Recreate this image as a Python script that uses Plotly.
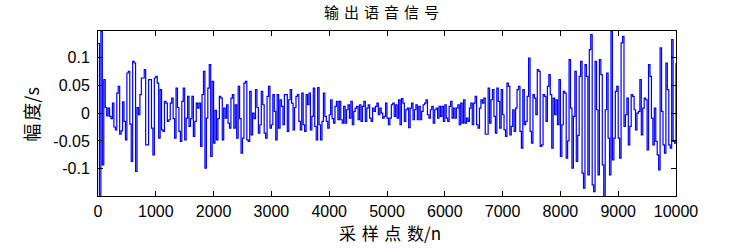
import numpy as np
import plotly.graph_objects as go

# sample step between listed values (samples)
step = 25

amp_0000 = [0.125, -0.15, 0.147, -0.093, 0.06, 0.01, -0.005, 0.009, -0.006, -0.01,
            0.018, -0.025, -0.03, 0.036, 0.048, -0.038, -0.032, 0.02, -0.015, -0.048,
            0.072, 0.075, -0.02, -0.087, 0.093, 0.09, -0.105, 0.01, -0.003, 0.033,
            0.063, 0.063, 0.078, -0.057, -0.057, 0.06, 0.06, -0.027, -0.075, 0.063,
            0.066, 0.054, -0.045, 0.042, -0.03]
amp_1125 = [-0.033, 0.021, 0.018, -0.015, -0.012,
            0.018, 0.027, -0.01, -0.045, 0.045, 0.01, -0.033, -0.051, 0.021, 0.045,
            -0.048, -0.009, 0.03, -0.024, -0.01, 0.03, -0.042, -0.015, 0.018, 0.009,
            0.018, -0.06, 0.033, 0.075, -0.099, -0.009, 0.045, 0.087, -0.078, 0.057,
            -0.054, 0.005, -0.048, -0.01, 0.03, 0.027, -0.048, 0.009, -0.009, 0.015]
amp_2250 = [-0.018, -0.027, 0.027, 0.033, -0.027, 0.015, -0.045, 0.048, -0.01, -0.072,
            -0.045, 0.054, 0.057, -0.048, -0.051, 0.039, -0.039, 0.0, -0.01, 0.042,
            0.01, -0.036, -0.021, 0.039, 0.015, -0.036, -0.045, 0.03, 0.048, -0.027,
            -0.021, 0.033, 0.003, -0.048, 0.033, -0.027, 0.024, 0.012, -0.021, 0.033,
            0.033, -0.033, 0.024, 0.042, 0.018]
amp_3375 = [-0.03, 0.01, 0.03, 0.033, -0.015,
            -0.03, 0.036, -0.021, -0.033, 0.033, 0.015, 0.036, -0.03, -0.006, 0.045,
            -0.024, -0.048, 0.046, -0.021, -0.048, -0.015, 0.036, -0.006, -0.015, -0.027,
            -0.003, 0.024, -0.01, -0.018, 0.012, 0.021, -0.012, 0.021, -0.012, -0.018,
            0.012, -0.018, 0.006, 0.015, -0.009, 0.021, -0.021, 0.003, 0.009, 0.012]
amp_4500 = [-0.012, 0.015, -0.015, 0.012, 0.021, -0.015, 0.009, 0.015, -0.009, -0.015,
            0.009, 0.003, 0.012, 0.018, -0.003, 0.009, 0.0, -0.009, -0.006, 0.018,
            -0.009, -0.021, -0.009, 0.015, 0.018, -0.006, 0.015, -0.009, 0.024, -0.021,
            0.026, 0.018, -0.015, 0.006, 0.009, -0.026, 0.009, 0.018, -0.012, 0.006,
            0.015, -0.012, 0.012, -0.012, 0.003]
amp_5625 = [0.015, 0.018, 0.024, -0.003, -0.009,
            0.006, 0.012, -0.018, 0.006, 0.009, -0.009, 0.012, -0.006, 0.012, -0.015,
            0.015, -0.009, -0.015, 0.012, 0.021, -0.009, 0.009, -0.009, 0.009, 0.015,
            -0.021, 0.018, -0.018, 0.024, -0.018, -0.009, -0.015, 0.009, 0.018, -0.021,
            0.018, 0.03, -0.021, -0.027, 0.009, 0.024, 0.018, 0.027, -0.038, -0.038]
amp_6750 = [0.045, -0.018, 0.024, 0.042, -0.006, -0.036, 0.045, 0.021, -0.027, 0.042,
            -0.003, -0.03, -0.042, 0.054, 0.048, -0.039, -0.024, 0.006, -0.033, 0.009,
            0.042, 0.048, -0.033, -0.063, 0.042, -0.021, -0.015, 0.03, 0.099, -0.033,
            -0.054, 0.033, 0.027, -0.003, 0.078, 0.075, -0.06, -0.057, 0.033, 0.03,
            -0.015, 0.048, 0.069, 0.033, -0.063]
amp_7875 = [0.027, -0.003, 0.024, -0.021, 0.06,
            -0.078, -0.021, 0.039, 0.036, -0.081, -0.05, 0.096, 0.009, -0.099, -0.006,
            0.075, -0.087, -0.04, 0.066, 0.093, -0.108, -0.135, 0.087, 0.066, -0.111,
            0.114, 0.141, -0.129, -0.141, 0.093, 0.006, -0.111, 0.096, 0.069, -0.093,
            -0.15, 0.006, 0.072, -0.045, -0.111, 0.147, -0.084, -0.045, 0.039, 0.048]
amp_9000 = [-0.045, -0.081, 0.126, 0.138, -0.024, -0.003, 0.027, -0.057, -0.024, 0.033,
            0.03, 0.006, -0.03, 0.0, 0.003, 0.06, -0.039, 0.009, 0.027, 0.024,
            -0.066, 0.087, 0.066, -0.009, -0.057, 0.009, -0.051, -0.075, -0.102, 0.117,
            0.003, -0.057, -0.072, 0.09, 0.042, -0.057, -0.063, 0.132, -0.051, -0.054,
            0.09]

amplitude = (amp_0000 + amp_1125 + amp_2250 + amp_3375 + amp_4500 +
             amp_5625 + amp_6750 + amp_7875 + amp_9000)
samples = np.arange(len(amplitude)) * step

x_ticks = [0, 1000, 2000, 3000, 4000, 5000, 6000, 7000, 8000, 9000, 10000]
x_ticktext = ["0", "1000", "2000", "3000", "4000", "5000", "6000", "7000", "8000", "9000", "10000"]
y_ticks = [-0.1, -0.05, 0, 0.05, 0.1]
y_ticktext = ["-0.1", "-0.05", "0", "0.05", "0.1"]

title_text = "输出语音信号"
xlabel_text = "采样点数/n"
ylabel_text = "幅度/s"

def spaced(s, sep):
    out = ""
    for i, ch in enumerate(s):
        out += ch
        if i + 1 < len(s) and ord(ch) > 0x2e80 and ord(s[i + 1]) > 0x2e80:
            out += sep
    return out

fig = go.Figure()
fig.add_trace(go.Scatter(x=samples, y=amplitude, mode="lines",
                         line=dict(color="#0000ff", width=1.2, shape="hv"),
                         showlegend=False, hoverinfo="skip"))

tick_font = dict(family="Liberation Sans, Arial, sans-serif", size=16, color="black")
cjk = "Noto Sans CJK SC, sans-serif"

fig.update_layout(
    width=748, height=248,
    margin=dict(l=98, r=72, t=31, b=52),
    paper_bgcolor="white", plot_bgcolor="white",
    xaxis=dict(range=[0, 10000], tickvals=x_ticks, ticktext=x_ticktext,
               showline=True, linecolor="black", linewidth=1, mirror="ticks",
               ticks="inside", ticklen=5, tickcolor="black", showgrid=False,
               zeroline=False, tickfont=tick_font, ticklabelstandoff=1),
    yaxis=dict(range=[-0.149, 0.1475], tickvals=y_ticks, ticktext=y_ticktext,
               showline=True, linecolor="black", linewidth=1, mirror="ticks",
               ticks="inside", ticklen=5, tickcolor="black", showgrid=False,
               zeroline=False, tickfont=tick_font, ticklabelstandoff=4),
    annotations=[
        dict(text=spaced(title_text, "\u2004"), xref="paper", yref="paper",
             x=0.49, y=(196 - 11) / 165, showarrow=False,
             font=dict(family=cjk, size=15, color="black"),
             xanchor="center", yanchor="middle"),
        dict(text=spaced(xlabel_text, "\u2004"), xref="paper", yref="paper",
             x=0.505, y=(196 - 233) / 165, showarrow=False,
             font=dict(family=cjk, size=17, color="black"),
             xanchor="center", yanchor="middle"),
        dict(text=spaced(ylabel_text, "\u2006"), xref="paper", yref="paper",
             x=(31.5 - 98) / 578, y=0.49, showarrow=False, textangle=-90,
             font=dict(family=cjk, size=18, color="black"),
             xanchor="center", yanchor="middle"),
    ],
)

fig.write_html("out.html")
